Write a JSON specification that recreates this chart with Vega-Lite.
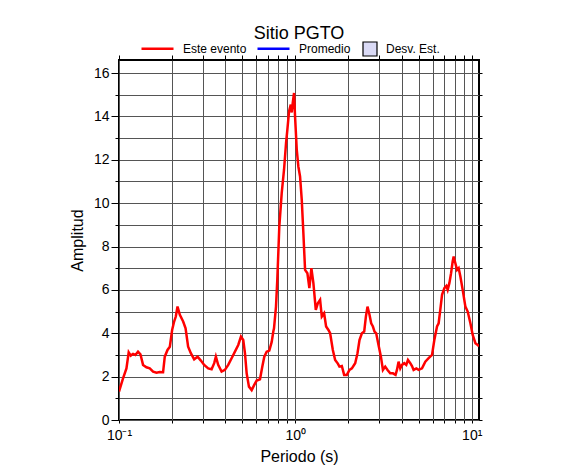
{
  "$schema": "https://vega.github.io/schema/vega-lite/v6.json",
  "width": 360,
  "height": 360,
  "autosize": {"type": "none"},
  "padding": {"left": 119, "top": 60, "right": 107, "bottom": 55},
  "title": {"text": "Sitio PGTO", "fontSize": 18, "font": "Liberation Sans", "fontWeight": "normal", "color": "black", "offset": -12},
  "data": {"values": [
    {"periodo": 0.1, "amplitud": 1.31, "serie": "Este evento"},
    {"periodo": 0.1054, "amplitud": 1.92, "serie": "Este evento"},
    {"periodo": 0.1102, "amplitud": 2.38, "serie": "Este evento"},
    {"periodo": 0.1135, "amplitud": 3.12, "serie": "Este evento"},
    {"periodo": 0.1166, "amplitud": 2.97, "serie": "Este evento"},
    {"periodo": 0.1201, "amplitud": 3.05, "serie": "Este evento"},
    {"periodo": 0.1239, "amplitud": 3.0, "serie": "Este evento"},
    {"periodo": 0.1282, "amplitud": 3.15, "serie": "Este evento"},
    {"periodo": 0.1323, "amplitud": 3.03, "serie": "Este evento"},
    {"periodo": 0.1369, "amplitud": 2.54, "serie": "Este evento"},
    {"periodo": 0.1431, "amplitud": 2.43, "serie": "Este evento"},
    {"periodo": 0.1494, "amplitud": 2.38, "serie": "Este evento"},
    {"periodo": 0.1561, "amplitud": 2.23, "serie": "Este evento"},
    {"periodo": 0.1632, "amplitud": 2.18, "serie": "Este evento"},
    {"periodo": 0.1703, "amplitud": 2.21, "serie": "Este evento"},
    {"periodo": 0.1778, "amplitud": 2.2, "serie": "Este evento"},
    {"periodo": 0.1818, "amplitud": 2.92, "serie": "Este evento"},
    {"periodo": 0.1884, "amplitud": 3.23, "serie": "Este evento"},
    {"periodo": 0.1942, "amplitud": 3.38, "serie": "Este evento"},
    {"periodo": 0.2001, "amplitud": 4.15, "serie": "Este evento"},
    {"periodo": 0.2054, "amplitud": 4.54, "serie": "Este evento"},
    {"periodo": 0.21, "amplitud": 4.77, "serie": "Este evento"},
    {"periodo": 0.2147, "amplitud": 5.23, "serie": "Este evento"},
    {"periodo": 0.2213, "amplitud": 4.85, "serie": "Este evento"},
    {"periodo": 0.2311, "amplitud": 4.54, "serie": "Este evento"},
    {"periodo": 0.2385, "amplitud": 4.23, "serie": "Este evento"},
    {"periodo": 0.2466, "amplitud": 3.38, "serie": "Este evento"},
    {"periodo": 0.2555, "amplitud": 3.08, "serie": "Este evento"},
    {"periodo": 0.2668, "amplitud": 2.8, "serie": "Este evento"},
    {"periodo": 0.279, "amplitud": 2.92, "serie": "Este evento"},
    {"periodo": 0.2913, "amplitud": 2.74, "serie": "Este evento"},
    {"periodo": 0.3041, "amplitud": 2.54, "serie": "Este evento"},
    {"periodo": 0.3205, "amplitud": 2.38, "serie": "Este evento"},
    {"periodo": 0.335, "amplitud": 2.34, "serie": "Este evento"},
    {"periodo": 0.3467, "amplitud": 2.62, "serie": "Este evento"},
    {"periodo": 0.3543, "amplitud": 2.92, "serie": "Este evento"},
    {"periodo": 0.3651, "amplitud": 2.54, "serie": "Este evento"},
    {"periodo": 0.3817, "amplitud": 2.23, "serie": "Este evento"},
    {"periodo": 0.3987, "amplitud": 2.31, "serie": "Este evento"},
    {"periodo": 0.4163, "amplitud": 2.54, "serie": "Este evento"},
    {"periodo": 0.4351, "amplitud": 2.85, "serie": "Este evento"},
    {"periodo": 0.4544, "amplitud": 3.15, "serie": "Este evento"},
    {"periodo": 0.4745, "amplitud": 3.46, "serie": "Este evento"},
    {"periodo": 0.4915, "amplitud": 3.85, "serie": "Este evento"},
    {"periodo": 0.5065, "amplitud": 3.69, "serie": "Este evento"},
    {"periodo": 0.5179, "amplitud": 3.08, "serie": "Este evento"},
    {"periodo": 0.5296, "amplitud": 2.15, "serie": "Este evento"},
    {"periodo": 0.5457, "amplitud": 1.54, "serie": "Este evento"},
    {"periodo": 0.5654, "amplitud": 1.38, "serie": "Este evento"},
    {"periodo": 0.5848, "amplitud": 1.62, "serie": "Este evento"},
    {"periodo": 0.6035, "amplitud": 1.82, "serie": "Este evento"},
    {"periodo": 0.6301, "amplitud": 1.88, "serie": "Este evento"},
    {"periodo": 0.6494, "amplitud": 2.46, "serie": "Este evento"},
    {"periodo": 0.6667, "amplitud": 2.92, "serie": "Este evento"},
    {"periodo": 0.6879, "amplitud": 3.15, "serie": "Este evento"},
    {"periodo": 0.7117, "amplitud": 3.2, "serie": "Este evento"},
    {"periodo": 0.7344, "amplitud": 3.6, "serie": "Este evento"},
    {"periodo": 0.7499, "amplitud": 4.08, "serie": "Este evento"},
    {"periodo": 0.7568, "amplitud": 4.23, "serie": "Este evento"},
    {"periodo": 0.7767, "amplitud": 5.23, "serie": "Este evento"},
    {"periodo": 0.79, "amplitud": 6.46, "serie": "Este evento"},
    {"periodo": 0.811, "amplitud": 8.92, "serie": "Este evento"},
    {"periodo": 0.8369, "amplitud": 10.46, "serie": "Este evento"},
    {"periodo": 0.8626, "amplitud": 11.54, "serie": "Este evento"},
    {"periodo": 0.8856, "amplitud": 12.77, "serie": "Este evento"},
    {"periodo": 0.9008, "amplitud": 13.38, "serie": "Este evento"},
    {"periodo": 0.9209, "amplitud": 14.23, "serie": "Este evento"},
    {"periodo": 0.9416, "amplitud": 14.54, "serie": "Este evento"},
    {"periodo": 0.9539, "amplitud": 14.18, "serie": "Este evento"},
    {"periodo": 0.9665, "amplitud": 14.62, "serie": "Este evento"},
    {"periodo": 0.9831, "amplitud": 15.08, "serie": "Este evento"},
    {"periodo": 0.9961, "amplitud": 14.0, "serie": "Este evento"},
    {"periodo": 1.0186, "amplitud": 12.46, "serie": "Este evento"},
    {"periodo": 1.0399, "amplitud": 11.69, "serie": "Este evento"},
    {"periodo": 1.0634, "amplitud": 11.23, "serie": "Este evento"},
    {"periodo": 1.0873, "amplitud": 10.15, "serie": "Este evento"},
    {"periodo": 1.1104, "amplitud": 8.62, "serie": "Este evento"},
    {"periodo": 1.1353, "amplitud": 6.92, "serie": "Este evento"},
    {"periodo": 1.1701, "amplitud": 6.77, "serie": "Este evento"},
    {"periodo": 1.201, "amplitud": 6.08, "serie": "Este evento"},
    {"periodo": 1.2329, "amplitud": 7.0, "serie": "Este evento"},
    {"periodo": 1.2657, "amplitud": 6.31, "serie": "Este evento"},
    {"periodo": 1.306, "amplitud": 5.08, "serie": "Este evento"},
    {"periodo": 1.3407, "amplitud": 5.38, "serie": "Este evento"},
    {"periodo": 1.3815, "amplitud": 5.54, "serie": "Este evento"},
    {"periodo": 1.4125, "amplitud": 4.77, "serie": "Este evento"},
    {"periodo": 1.4558, "amplitud": 4.92, "serie": "Este evento"},
    {"periodo": 1.4943, "amplitud": 4.31, "serie": "Este evento"},
    {"periodo": 1.5401, "amplitud": 4.15, "serie": "Este evento"},
    {"periodo": 1.5749, "amplitud": 4.0, "serie": "Este evento"},
    {"periodo": 1.6313, "amplitud": 3.23, "serie": "Este evento"},
    {"periodo": 1.6813, "amplitud": 2.77, "serie": "Este evento"},
    {"periodo": 1.7416, "amplitud": 2.6, "serie": "Este evento"},
    {"periodo": 1.7783, "amplitud": 2.46, "serie": "Este evento"},
    {"periodo": 1.8349, "amplitud": 2.49, "serie": "Este evento"},
    {"periodo": 1.8912, "amplitud": 2.08, "serie": "Este evento"},
    {"periodo": 1.9588, "amplitud": 2.08, "serie": "Este evento"},
    {"periodo": 2.0271, "amplitud": 2.31, "serie": "Este evento"},
    {"periodo": 2.0922, "amplitud": 2.38, "serie": "Este evento"},
    {"periodo": 2.1842, "amplitud": 2.62, "serie": "Este evento"},
    {"periodo": 2.251, "amplitud": 3.08, "serie": "Este evento"},
    {"periodo": 2.3104, "amplitud": 3.69, "serie": "Este evento"},
    {"periodo": 2.3845, "amplitud": 4.0, "serie": "Este evento"},
    {"periodo": 2.4571, "amplitud": 4.08, "serie": "Este evento"},
    {"periodo": 2.5119, "amplitud": 4.77, "serie": "Este evento"},
    {"periodo": 2.565, "amplitud": 5.23, "serie": "Este evento"},
    {"periodo": 2.6331, "amplitud": 4.85, "serie": "Este evento"},
    {"periodo": 2.692, "amplitud": 4.46, "serie": "Este evento"},
    {"periodo": 2.7528, "amplitud": 4.31, "serie": "Este evento"},
    {"periodo": 2.8111, "amplitud": 4.08, "serie": "Este evento"},
    {"periodo": 2.874, "amplitud": 4.0, "serie": "Este evento"},
    {"periodo": 2.962, "amplitud": 3.46, "serie": "Este evento"},
    {"periodo": 3.0564, "amplitud": 2.92, "serie": "Este evento"},
    {"periodo": 3.1376, "amplitud": 2.31, "serie": "Este evento"},
    {"periodo": 3.2336, "amplitud": 2.46, "serie": "Este evento"},
    {"periodo": 3.3321, "amplitud": 2.31, "serie": "Este evento"},
    {"periodo": 3.4523, "amplitud": 2.15, "serie": "Este evento"},
    {"periodo": 3.5763, "amplitud": 2.15, "serie": "Este evento"},
    {"periodo": 3.7003, "amplitud": 2.08, "serie": "Este evento"},
    {"periodo": 3.7682, "amplitud": 2.31, "serie": "Este evento"},
    {"periodo": 3.848, "amplitud": 2.69, "serie": "Este evento"},
    {"periodo": 3.935, "amplitud": 2.38, "serie": "Este evento"},
    {"periodo": 4.023, "amplitud": 2.54, "serie": "Este evento"},
    {"periodo": 4.1463, "amplitud": 2.62, "serie": "Este evento"},
    {"periodo": 4.256, "amplitud": 2.54, "serie": "Este evento"},
    {"periodo": 4.3514, "amplitud": 2.77, "serie": "Este evento"},
    {"periodo": 4.4847, "amplitud": 2.62, "serie": "Este evento"},
    {"periodo": 4.5858, "amplitud": 2.49, "serie": "Este evento"},
    {"periodo": 4.6829, "amplitud": 2.31, "serie": "Este evento"},
    {"periodo": 4.851, "amplitud": 2.38, "serie": "Este evento"},
    {"periodo": 4.9995, "amplitud": 2.31, "serie": "Este evento"},
    {"periodo": 5.2265, "amplitud": 2.38, "serie": "Este evento"},
    {"periodo": 5.4566, "amplitud": 2.69, "serie": "Este evento"},
    {"periodo": 5.6978, "amplitud": 2.85, "serie": "Este evento"},
    {"periodo": 5.9566, "amplitud": 3.0, "serie": "Este evento"},
    {"periodo": 6.139, "amplitud": 3.69, "serie": "Este evento"},
    {"periodo": 6.3592, "amplitud": 4.31, "serie": "Este evento"},
    {"periodo": 6.4938, "amplitud": 4.46, "serie": "Este evento"},
    {"periodo": 6.6406, "amplitud": 5.1, "serie": "Este evento"},
    {"periodo": 6.7891, "amplitud": 5.77, "serie": "Este evento"},
    {"periodo": 6.9976, "amplitud": 6.08, "serie": "Este evento"},
    {"periodo": 7.1838, "amplitud": 6.18, "serie": "Este evento"},
    {"periodo": 7.306, "amplitud": 6.0, "serie": "Este evento"},
    {"periodo": 7.4711, "amplitud": 6.31, "serie": "Este evento"},
    {"periodo": 7.6399, "amplitud": 6.77, "serie": "Este evento"},
    {"periodo": 7.7983, "amplitud": 7.31, "serie": "Este evento"},
    {"periodo": 7.9015, "amplitud": 7.54, "serie": "Este evento"},
    {"periodo": 8.0798, "amplitud": 7.23, "serie": "Este evento"},
    {"periodo": 8.2604, "amplitud": 6.92, "serie": "Este evento"},
    {"periodo": 8.4353, "amplitud": 7.0, "serie": "Este evento"},
    {"periodo": 8.6259, "amplitud": 6.62, "serie": "Este evento"},
    {"periodo": 8.8902, "amplitud": 6.0, "serie": "Este evento"},
    {"periodo": 9.209, "amplitud": 5.23, "serie": "Este evento"},
    {"periodo": 9.4912, "amplitud": 5.0, "serie": "Este evento"},
    {"periodo": 9.8311, "amplitud": 4.46, "serie": "Este evento"},
    {"periodo": 10.1321, "amplitud": 3.92, "serie": "Este evento"},
    {"periodo": 10.4954, "amplitud": 3.54, "serie": "Este evento"},
    {"periodo": 10.8177, "amplitud": 3.46, "serie": "Este evento"},
    {"periodo": 11.0, "amplitud": 3.4, "serie": "Este evento"}
  ]},
  "layer": [
    {
      "mark": {"type": "line", "strokeWidth": 2.5, "clip": true},
      "encoding": {
        "x": {
          "field": "periodo", "type": "quantitative",
          "scale": {"type": "log", "domain": [0.1, 11], "nice": false},
          "axis": {
            "orient": "bottom",
            "values": [0.1, 0.2, 0.3, 0.4, 0.5, 0.6, 0.7, 0.8, 0.9, 1, 2, 3, 4, 5, 6, 7, 8, 9, 10],
            "labelExpr": "datum.value == 0.1 ? '10⁻¹' : (datum.value == 1 ? '10⁰' : (datum.value == 10 ? '10¹' : ''))",
            "grid": true, "gridColor": "#555555", "gridWidth": 1, "gridOpacity": 1,
            "domain": false,
            "ticks": true, "tickSize": 3, "tickColor": "black", "tickWidth": 1,
            "labelFontSize": 14, "labelColor": "black", "labelPadding": 5, "labelFlush": false,
            "title": "Periodo (s)", "titleFontSize": 16, "titleFontWeight": "normal", "titleColor": "black", "titlePadding": 6
          }
        },
        "y": {
          "field": "amplitud", "type": "quantitative",
          "scale": {"domain": [0, 16.6], "nice": false, "zero": true},
          "axis": {
            "orient": "left",
            "values": [0, 1, 2, 3, 4, 5, 6, 7, 8, 9, 10, 11, 12, 13, 14, 15, 16],
            "labelExpr": "datum.value % 2 === 0 ? datum.label : ''",
            "grid": true, "gridColor": "#555555", "gridWidth": 1, "gridOpacity": 1,
            "domain": false,
            "ticks": true, "tickColor": "black", "tickWidth": 1,
            "tickSize": {"condition": {"test": "datum.value % 2 === 0", "value": 8}, "value": 4},
            "labelFontSize": 14, "labelColor": "black", "labelPadding": 2,
            "title": "Amplitud", "titleFontSize": 16, "titleFontWeight": "normal", "titleColor": "black", "titlePadding": 8
          }
        },
        "color": {
          "field": "serie", "type": "nominal",
          "scale": {"domain": ["Este evento", "Promedio"], "range": ["#ff0000", "#0000ff"]},
          "legend": {
            "title": null,
            "orient": "none",
            "legendX": 21,
            "legendY": -29,
            "direction": "horizontal",
            "symbolType": "stroke",
            "symbolSize": 1024,
            "symbolStrokeWidth": 2.5,
            "labelFontSize": 12,
            "labelColor": "black",
            "labelOffset": 8,
            "columnPadding": 5
          }
        }
      }
    },
    {
      "mark": {"type": "line", "opacity": 0},
      "encoding": {
        "x": {
          "field": "periodo", "type": "quantitative",
          "axis": {
            "orient": "top",
            "values": [0.1, 0.2, 0.3, 0.4, 0.5, 0.6, 0.7, 0.8, 0.9, 1, 2, 3, 4, 5, 6, 7, 8, 9, 10],
            "labels": false, "grid": false, "domain": false, "title": null,
            "ticks": true, "tickSize": 5, "tickColor": "black", "tickWidth": 1
          }
        },
        "y": {
          "field": "amplitud", "type": "quantitative",
          "axis": {
            "orient": "right",
            "values": [0, 1, 2, 3, 4, 5, 6, 7, 8, 9, 10, 11, 12, 13, 14, 15, 16],
            "labels": false, "grid": false, "domain": false, "title": null,
            "ticks": true, "tickSize": 3, "tickColor": "black", "tickWidth": 1
          }
        }
      }
    },
    {
      "transform": [{"filter": "datum.amplitud < 0"}],
      "mark": {"type": "point", "filled": true, "opacity": 0},
      "encoding": {
        "x": {"field": "periodo", "type": "quantitative", "axis": null},
        "y": {"field": "amplitud", "type": "quantitative", "axis": null},
        "fill": {
          "field": "serie", "type": "nominal",
          "scale": {"domain": ["Desv. Est."], "range": ["#dadaf5"]},
          "legend": {
            "title": null,
            "orient": "none",
            "legendX": 243,
            "legendY": -19,
            "direction": "horizontal",
            "symbolType": "square",
            "symbolSize": 196,
            "symbolStrokeColor": "black",
            "symbolStrokeWidth": 1.2,
            "symbolOpacity": 1,
            "labelFontSize": 12,
            "labelColor": "black",
            "labelOffset": 8
          }
        }
      }
    }
  ],
  "resolve": {"axis": {"x": "independent", "y": "independent"}},
  "config": {
    "font": "Liberation Sans",
    "view": {"stroke": "black", "strokeWidth": 2},
    "background": "white"
  }
}
